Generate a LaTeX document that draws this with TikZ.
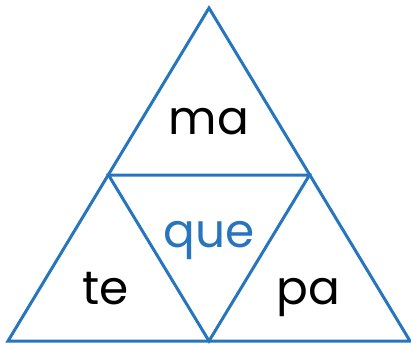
\documentclass[tikz,border=0pt]{standalone}
\usepackage{fontspec}
\setmainfont{Poppins}
\definecolor{triblue}{RGB}{38,117,189}
\begin{document}
\begin{tikzpicture}[x=1pt, y=-1pt, line width=3pt, line join=miter,
  syl/.style={font=\fontsize{47}{56}\selectfont, inner sep=0pt, anchor=base}]
  % 1. Rahmen (Bildgroesse 411 x 345)
  \useasboundingbox (0,0) rectangle (411,345);

  % 2. Eckpunkte und Seitenmitten
  \coordinate (top) at (209,8);
  \coordinate (bl) at (8,341);
  \coordinate (br) at (410,341);
  \coordinate (ml) at (108.5,175);
  \coordinate (mr) at (309.5,175);
  \coordinate (mb) at (209,341);

  % 3. grosses Dreieck und inneres Dreieck
  \draw[triblue] (top) -- (br) -- (bl) -- cycle;
  \draw[triblue] (ml) -- (mr) -- (mb) -- cycle;

  % 4. Silben
  \node[syl] (ma) at (209,134) {ma};
  \node[syl, text=triblue] (que) at (209,247) {que};
  \node[syl] (te) at (106,304) {te};
  \node[syl] (pa) at (308,304) {pa};
\end{tikzpicture}
\end{document}
